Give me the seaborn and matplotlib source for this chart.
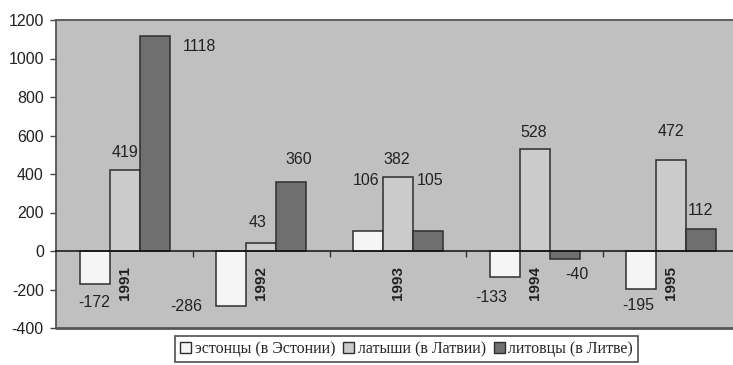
import matplotlib
matplotlib.use("Agg")
import matplotlib.pyplot as plt
from matplotlib.patches import Patch
import pandas as pd
import seaborn as sns

# Net migration balance by nationality, 1991-1995
years = ["1991", "1992", "1993", "1994", "1995"]
series = ["эстонцы (в Эстонии)", "латыши (в Латвии)", "литовцы (в Литве)"]
estonians = [-172, -286, 106, -133, -195]
latvians = [419, 43, 382, 528, 472]
lithuanians = [1118, 360, 105, -40, 112]
y_ticks = [-400, -200, 0, 200, 400, 600, 800, 1000, 1200]

colors = ["#f5f5f5", "#cbcbcb", "#6f6f6f"]
edge = "#2e2e2e"

# value-label offsets in pixels (dx, dy) from the bar end, one row per series
label_offsets = [
    [(0, -18), (-45, 0), (-2, 50), (-13, -21), (-3, -17)],
    [(0, 18), (-4, 20), (-1, 18), (-1, 17), (0, 29)],
    [(45, -11), (7, 22), (2, 50), (12, -16), (-1, 19)],
]

values = [estonians, latvians, lithuanians]
df = pd.DataFrame(
    {
        "year": years * len(series),
        "series": [s for s in series for _ in years],
        "value": [v for vals in values for v in vals],
    }
)

sns.set_style("white")
plt.rcParams["font.family"] = ["Liberation Sans", "DejaVu Sans"]

fig = plt.figure(figsize=(7.33, 3.65), dpi=100)
ax = fig.add_axes([56.3 / 733, 1 - 328 / 365, 683.4 / 733, 308 / 365])
ax.set_facecolor("#c0c0c0")

sns.barplot(
    data=df, x="year", y="value", hue="series",
    order=years, hue_order=series, palette=colors,
    saturation=1, width=0.66, edgecolor=edge, linewidth=1.1,
    errorbar=None, legend=False, ax=ax,
)

ax.set_xlim(-0.5, len(years) - 0.5)
ax.set_ylim(y_ticks[0], y_ticks[-1])
ax.set_yticks(y_ticks)
ax.set_yticklabels([str(t) for t in y_ticks], fontsize=11.5, color="#222222")
ax.tick_params(axis="y", direction="out", length=4, width=1, color="#444444", pad=5, left=True)

# category axis runs along zero, with boundary ticks between groups
ax.spines["bottom"].set_position(("data", 0))
ax.spines["bottom"].set_color("#111111")
ax.spines["bottom"].set_linewidth(1.1)
ax.set_xticks(range(len(years)))
ax.set_xticklabels(years, rotation=90, fontsize=11, fontweight="bold", color="#222222")
ax.tick_params(axis="x", which="major", length=0, pad=11)
ax.set_xticks([i + 0.5 for i in range(len(years) - 1)], minor=True)
ax.tick_params(axis="x", which="minor", direction="out", length=4, width=1, color="#333333", bottom=True)
for lbl in ax.get_xticklabels():
    lbl.set_verticalalignment("top")

for side in ["left", "top", "right"]:
    ax.spines[side].set_color("#555555")
    ax.spines[side].set_linewidth(1.3)
ax.axhline(y_ticks[0], color="#555555", linewidth=2.0, clip_on=False)

ax.set_xlabel("")
ax.set_ylabel("")

# value labels on each bar
for container, vals, offs in zip(ax.containers, values, label_offsets):
    for bar, v, (dx, dy) in zip(container.patches, vals, offs):
        x = bar.get_x() + bar.get_width() / 2
        ax.annotate(
            str(v), xy=(x, v), xytext=(dx, dy), textcoords="offset pixels",
            ha="center", va="center", fontsize=11.5, color="#222222",
        )

handles = [Patch(facecolor=c, edgecolor=edge, linewidth=1) for c in colors]
leg = fig.legend(
    handles, series, ncol=3, loc="center",
    bbox_to_anchor=(406.5 / 733, 1 - 349 / 365),
    frameon=True, fancybox=False, edgecolor="#222222",
    prop={"family": "Liberation Serif", "size": 11.5},
    handlelength=0.7, handleheight=0.7, handletextpad=0.2,
    columnspacing=0.5, borderpad=0.3, borderaxespad=0,
)
leg.get_frame().set_linewidth(1.2)

fig.savefig("out.png", dpi=100)
